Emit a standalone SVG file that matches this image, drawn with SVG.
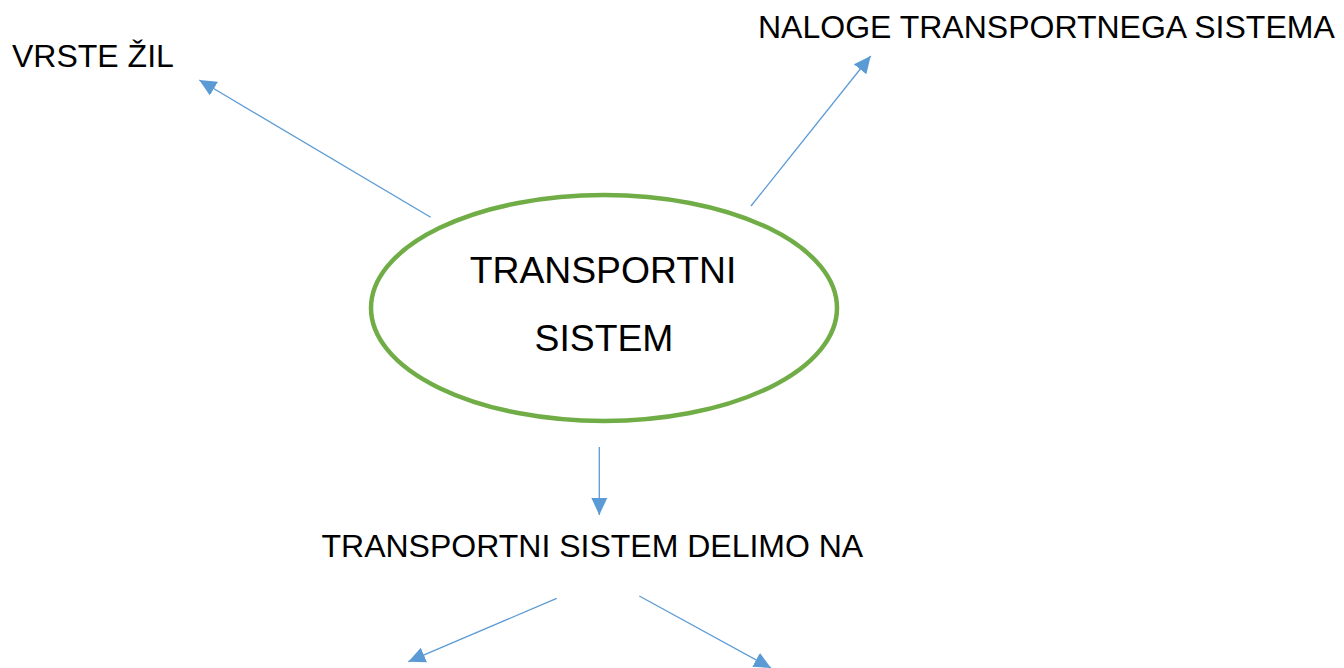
<svg xmlns="http://www.w3.org/2000/svg" width="1344" height="668" viewBox="0 0 1344 668">
<style>
.lbl{font-family:"Liberation Sans",Arial,sans-serif;fill:#000;}
.s{font-size:32px;}
.b{font-size:37.3px;}
.c{stroke:#5B9BD5;stroke-width:1.3;fill:none;}
</style>
<defs>
<marker id="ah" markerUnits="userSpaceOnUse" markerWidth="17" markerHeight="17" refX="16" refY="7.5" orient="auto" viewBox="0 0 16 15">
<path d="M0,0 L16,7.5 L0,15 z" fill="#5B9BD5"/>
</marker>
</defs>
<rect width="1344" height="668" fill="#fff"/>
<g id="connectors">
<line class="c" x1="430.7" y1="217.3" x2="199.3" y2="80" marker-end="url(#ah)"/>
<line class="c" x1="751" y1="206" x2="870.7" y2="56" marker-end="url(#ah)"/>
<line class="c" x1="599.3" y1="447" x2="599.3" y2="515" marker-end="url(#ah)"/>
<line class="c" x1="556.7" y1="598.3" x2="408.3" y2="661.7" marker-end="url(#ah)"/>
<line class="c" x1="639.3" y1="596" x2="771" y2="668" marker-end="url(#ah)"/>
</g>
<g id="center">
<ellipse cx="604" cy="308" rx="233" ry="113" fill="#fff" stroke="#70AD47" stroke-width="4.5"/>
<text class="lbl b" x="603" y="283" text-anchor="middle">TRANSPORTNI</text>
<text class="lbl b" x="604" y="351" text-anchor="middle">SISTEM</text>
</g>
<g id="vrste"><text class="lbl s" x="12" y="67">VRSTE ŽIL</text></g>
<g id="naloge"><text class="lbl s" x="758" y="37.5">NALOGE TRANSPORTNEGA SISTEMA</text></g>
<g id="delimo"><text class="lbl s" x="321.5" y="557">TRANSPORTNI SISTEM DELIMO NA</text></g>
</svg>
